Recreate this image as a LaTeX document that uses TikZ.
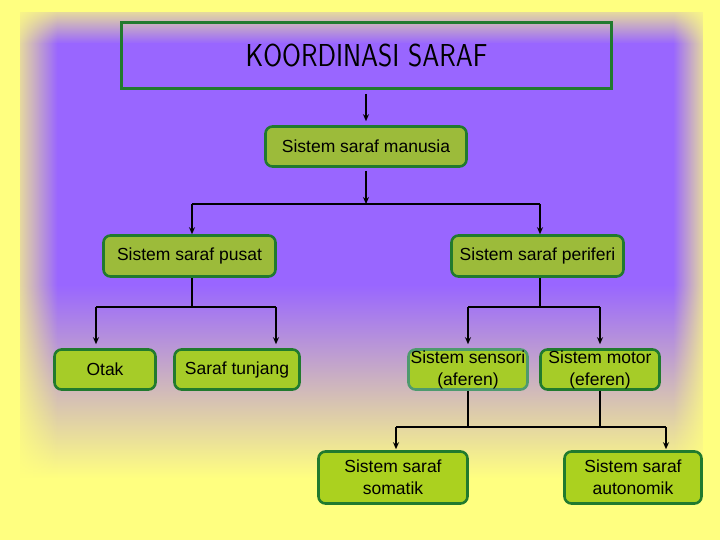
\documentclass[tikz,border=0pt]{standalone}
\usepackage{fontspec}
\usepackage{graphicx}
\setmainfont{Liberation Sans}
\usetikzlibrary{arrows.meta,fadings}
\definecolor{bgpurple}{HTML}{9966FF}
\definecolor{bgyellow}{HTML}{FFFF80}
\definecolor{bgreen}{HTML}{217A2E}
\definecolor{sgreen}{HTML}{4E9A6E}
\definecolor{olivea}{HTML}{9CBB3A}
\definecolor{oliveb}{HTML}{A6CC28}
\definecolor{olivec}{HTML}{ABD11F}
\tikzfading[name=fadeLR, left color=transparent!0, right color=transparent!100]
\tikzfading[name=fadeRL, left color=transparent!100, right color=transparent!0]
\tikzfading[name=fadeTB, top color=transparent!0, bottom color=transparent!100]
\tikzset{
  ubox/.style={draw=bgreen, line width=2.6pt, rounded corners=7pt, fill=olivea,
    inner sep=0pt, align=center, text=black, font=\fontsize{17.5}{22}\selectfont},
  lbox/.style={ubox, fill=oliveb},
  bbox/.style={ubox, fill=olivec},
  titlebox/.style={draw=bgreen, line width=3pt, inner sep=0pt},
  arr/.style={line width=1.4pt, -{Stealth[length=7pt,width=6pt]}},
  ln/.style={line width=1.4pt},
}
\begin{document}
\begin{tikzpicture}[x=1pt,y=-1pt]
\useasboundingbox (0,0) rectangle (720,540);
% background
\fill[bgyellow] (0,0) rectangle (720,540);
\fill[bgpurple] (0,0) rectangle (720,285);
\shade[top color=bgpurple, bottom color=bgyellow] (0,285) rectangle (720,478);
\fill[bgyellow] (0,0) rectangle (720,12);
\fill[bgyellow, path fading=fadeTB] (0,1.5) rectangle (720,43.5);
\fill[bgyellow] (0,0) rectangle (20,540);
\fill[bgyellow, path fading=fadeLR] (7.5,0) rectangle (57.5,540);
\fill[bgyellow] (703,0) rectangle (720,540);
\fill[bgyellow, path fading=fadeRL] (673,0) rectangle (713,540);
% nodes
\node[titlebox, minimum width=490, minimum height=66] (title) at (366.5,55.5)
  {\scalebox{0.86}[1]{\fontsize{31.7}{36}\sffamily KOORDINASI SARAF}};
\node[ubox, minimum width=201, minimum height=40] (manusia) at (366,146.5) {Sistem saraf manusia};
\node[ubox, minimum width=172, minimum height=41] (pusat) at (189.5,256) {Sistem saraf pusat};
\node[ubox, minimum width=172, minimum height=41] (periferi) at (537.5,256) {Sistem saraf periferi};
\node[lbox, minimum width=101, minimum height=40] (otak) at (105,369.5) {Otak};
\node[lbox, minimum width=125, minimum height=40] (tunjang) at (237,369.5) {Saraf tunjang};
\node[lbox, draw=sgreen, minimum width=119, minimum height=40] (sensori) at (468,369.5) {Sistem sensori\\(aferen)};
\node[lbox, minimum width=119, minimum height=40] (motor) at (600,369.5) {Sistem motor\\(eferen)};
\node[bbox, minimum width=149, minimum height=52] (somatik) at (393,477.5) {Sistem saraf\\somatik};
\node[bbox, minimum width=137, minimum height=52] (autonomik) at (633,477.5) {Sistem saraf\\autonomik};
% connectors
\draw[arr, shorten <=4pt, shorten >=4pt] (manusia.north |- title.south) -- (manusia.north);
\coordinate (j0) at (366,204);
\coordinate (j0l) at (192,204);
\coordinate (j0r) at (540,204);
\draw[arr, shorten <=3pt] (manusia.south) -- (j0);
\draw[ln] (j0l) -- (j0r);
\draw[arr] (j0l) -- (j0l |- pusat.north);
\draw[arr] (j0r) -- (j0r |- periferi.north);
\coordinate (j1) at (192,307);
\coordinate (j1l) at (96,307);
\coordinate (j1r) at (276,307);
\draw[ln] (j1 |- pusat.south) -- (j1);
\draw[ln] (j1l) -- (j1r);
\draw[arr, shorten >=4pt] (j1l) -- (j1l |- otak.north);
\draw[arr, shorten >=4pt] (j1r) -- (j1r |- tunjang.north);
\coordinate (j2) at (540,307);
\coordinate (j2l) at (468,307);
\coordinate (j2r) at (600,307);
\draw[ln] (j2 |- periferi.south) -- (j2);
\draw[ln] (j2l) -- (j2r);
\draw[arr, shorten >=4pt] (j2l) -- (sensori.north);
\draw[arr, shorten >=4pt] (j2r) -- (motor.north);
\coordinate (j3l) at (396,427);
\coordinate (j3r) at (666,427);
\draw[ln] (sensori.south) -- (sensori.south |- j3l);
\draw[ln] (motor.south) -- (motor.south |- j3l);
\draw[ln] (j3l) -- (j3r);
\draw[arr, shorten >=1pt] (j3l) -- (j3l |- somatik.north);
\draw[arr, shorten >=1pt] (j3r) -- (j3r |- autonomik.north);
\end{tikzpicture}
\end{document}
